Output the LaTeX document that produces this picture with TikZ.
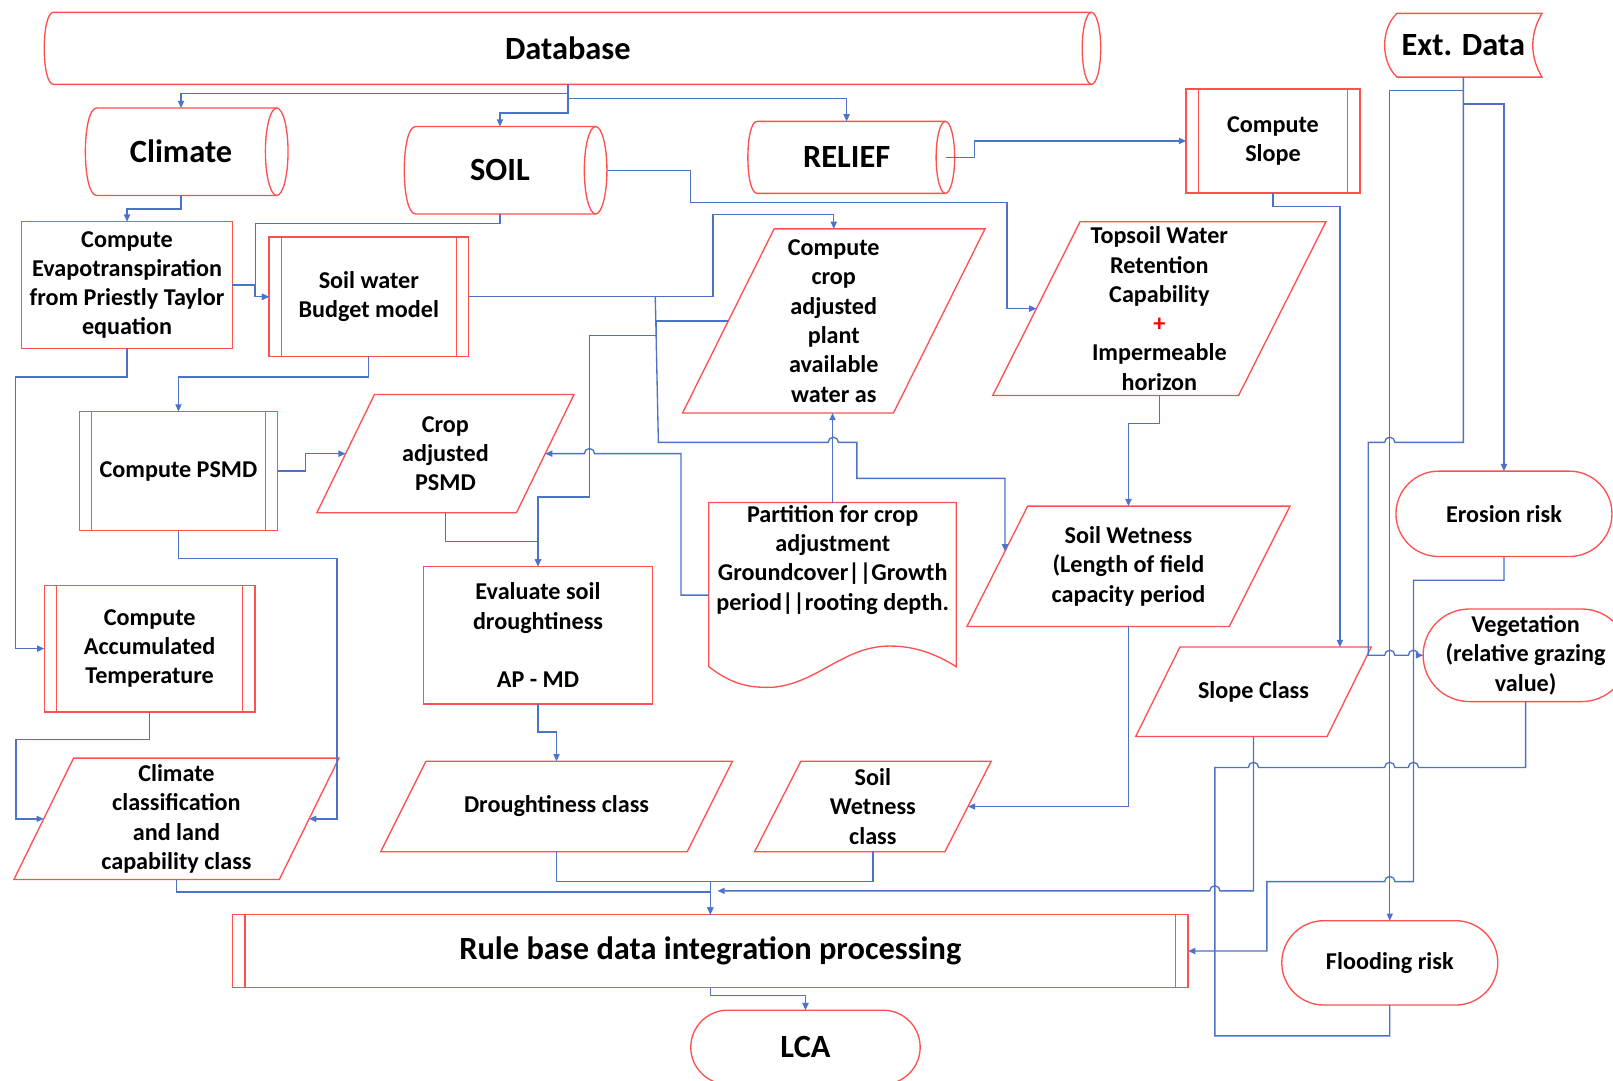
\documentclass[tikz,border=0pt]{standalone}
\usepackage{fontspec}
\setmainfont{Carlito}
\usetikzlibrary{arrows.meta,calc,shapes.misc}
\definecolor{rd}{RGB}{255,80,80}
\definecolor{bl}{RGB}{75,115,200}
\newcommand\PBox[7]{% style,name,cx,cy,w,h,text
  \node[box,#1,minimum width=#5pt,minimum height=#6pt] (#2) at (#3,#4) {#7};
  \draw[shp] (#2.north west) rectangle (#2.south east);}
\newcommand\PProc[8]{% style,name,cx,cy,w,h,off,text
  \node[box,#1,minimum width=#5pt,minimum height=#6pt] (#2) at (#3,#4) {#8};
  \draw[shp] (#2.north west) rectangle (#2.south east)
    ($(#2.north west)+(#7,0)$) -- ($(#2.south west)+(#7,0)$)
    ($(#2.north east)+(-#7,0)$) -- ($(#2.south east)+(-#7,0)$);}
\newcommand\PPar[8]{% style,name,cx,cy,w,h,slant,text
  \node[box,#1,minimum width=#5pt,minimum height=#6pt] (#2) at (#3,#4) {#8};
  \draw[shp] ($(#2.north west)+(#7,0)$) -- (#2.north east) -- ($(#2.south east)+(-#7,0)$) -- (#2.south west) -- cycle;
  \coordinate (#2-l) at ($(#2.west)+(#7/2,0)$);
  \coordinate (#2-r) at ($(#2.east)+(-#7/2,0)$);}
\newcommand\PCyl[8]{% style,name,cx,cy,w,h,rx,text
  \node[box,#1,minimum width=#5pt,minimum height=#6pt] (#2) at (#3,#4) {#8};
  \draw[shp] ($(#2.north west)+(#7,0)$) -- (#2.north east)
    (#2.south east) -- ($(#2.south west)+(#7,0)$)
    .. controls ($(#2.south west)+(-#7/3,0)$) and ($(#2.north west)+(-#7/3,0)$) .. ($(#2.north west)+(#7,0)$);
  \draw[shp] (#2.east) ellipse [x radius=#7, y radius=#6/2];}
\newcommand\PStad[7]{% style,name,cx,cy,w,h,text
  \node[box,shp,rounded rectangle,#1,minimum width=#5pt,minimum height=#6pt] (#2) at (#3,#4) {#7};}
\begin{document}
\begin{tikzpicture}[x=1pt,y=-1pt,
  shp/.style={draw=rd, line width=1.3pt},
  box/.style={inner sep=0pt, outer sep=0pt, align=center, text=black,
    font=\fontsize{23.5}{28.5}\selectfont\bfseries},
  bigf/.style={font=\fontsize{31.5}{36}\selectfont\bfseries},
  conn/.style={draw=bl, line width=1.3pt, -{Triangle[length=7pt,width=6pt]}},
  cline/.style={draw=bl, line width=1.3pt}]
\fill[white] (0,0) rectangle (1568,1050);
\useasboundingbox (0,0) rectangle (1568,1050);

% ---------- shapes ----------
\PCyl{bigf}{db}{552}{47}{1018}{70}{9}{Database}
\PCyl{bigf}{cli}{176}{147.5}{186}{85}{11}{Climate}
\PCyl{bigf}{soil}{486}{165.5}{186}{85}{11}{SOIL}
\PCyl{bigf}{rel}{823}{153}{192}{70}{9}{RELIEF}

\node[box,bigf,minimum width=153pt,minimum height=62pt] (ext) at (1422.5,44) {Ext. Data};
\draw[shp] ($(ext.north west)+(12,0)$) -- (ext.north east)
  .. controls ($(ext.north east)+(-12,20)$) and ($(ext.south east)+(-12,-20)$) .. (ext.south east)
  -- ($(ext.south west)+(12,0)$)
  .. controls ($(ext.south west)+(-4,-15)$) and ($(ext.north west)+(-4,15)$) .. ($(ext.north west)+(12,0)$);

\PProc{}{cs}{1237.5}{137}{169}{101}{12}{Compute\\Slope}
\PBox{}{et}{123.5}{277}{205}{123}{Compute\\Evapotranspiration\\from Priestly Taylor\\equation}
\PProc{}{swb}{358.5}{288.5}{194}{116}{12}{Soil water\\Budget model}
\PPar{}{cc}{810.5}{312}{294}{179}{89}{Compute\\crop\\adjusted\\plant\\available\\water as}
\PPar{}{tw}{1127}{300}{324}{169}{85}{Topsoil Water\\Retention\\Capability\\{\color{red}+}\\Impermeable\\horizon}
\PProc{}{psmd}{173.5}{458}{193}{116}{12}{Compute PSMD}
\PPar{}{cp}{433}{441}{250}{115}{56}{Crop\\adjusted\\PSMD}

\node[box,minimum width=240.5pt,minimum height=159.5pt] (pt) at (809.3,568.3) {};
\draw[shp] (689,648) -- (689,488.5) -- (929.5,488.5) -- (929.5,648)
  .. controls (910,636) and (890,628) .. (865,628)
  .. controls (820,628) and (795,664) .. (752,668)
  .. controls (730,669) and (712,666) .. (689,648);
\node[box] (ptt) at (809.5,544) {Partition for crop\\adjustment\\Groundcover||Growth\\period||rooting depth.};

\PPar{}{sw}{1097}{550.5}{314}{117}{59}{Soil Wetness\\(Length of field\\capacity period}
\PStad{}{er}{1462}{499.5}{210}{83}{Erosion risk}
\PStad{}{vg}{1483}{637}{186}{90}{Vegetation\\(relative grazing\\value)}
\PProc{}{at}{145.5}{630.5}{205}{123}{12}{Compute\\Accumulated\\Temperature}
\PBox{}{ev}{523}{617.5}{223}{134}{Evaluate soil\\droughtiness\\[28.5pt]AP - MD}
\PPar{}{sc}{1218.5}{672.5}{229}{87}{43}{Slope Class}
\PPar{}{cl}{171.5}{796}{316}{118}{58}{Climate\\classification\\and land\\capability class}
\PPar{}{dc}{541}{784}{342}{88}{44}{Droughtiness class}
\PPar{}{swc}{848.5}{784}{230}{88}{45}{Soil\\Wetness\\class}
\PProc{bigf}{rb}{690.5}{924.5}{929}{71}{12}{Rule base data integration processing}
\PStad{}{fl}{1351}{936}{210}{82}{Flooding risk}
\PStad{bigf}{lca}{783}{1018}{223}{72}{LCA}

% ---------- connectors ----------
\draw[conn] (db.south) -- ++(0,9) -| (cli.north);
\draw[conn] (db.south) -- ++(0,14) -| (rel.north);
\draw[conn] (db.south) -- ++(0,28) -| (soil.north);
\draw[conn] (cli.south) -- ++(0,13) -| (et.north);
\draw[conn] (soil.south) -- ++(0,9) -| ($(swb.west)+(-13,0)$) -- (swb.west);
\draw[conn] (et.east) -- ++(22,0) |- (swb.west);
\draw[conn] ($(soil.east)+(11,0)$) -| (671,197) -| (979,300) -- (tw-l);
\draw[conn] ($(rel.east)+(1,0)$) -- (947,153) |- (cs.west);
\draw[conn] (cs.south) -- ++(0,13) -| ($(sc.north)+(84,0)$);
\draw[conn] (tw.south) -- ++(0,27) -| (sw.north);
\draw[conn] (sw.south) |- (swc-r);
\draw[conn] (swb.east) -| ($(cc.north)+(-117.5,-14)$) -| (cc.north);
\coordinate (j1) at ($(swb.east)+(181.5,0)$);
\coordinate (swin) at (977,536);
\draw[conn] (j1) -- (640,430) -- (805,430) arc(180:360:5) -- (833,430) -- (833,465) -- (977,465) -- (swin);
\draw[conn] (cc-l) -| (638,326) -| (573,483) -| (ev.north);
\draw[conn] (cp.south) -- ++(0,28) -| (ev.north);
\draw[conn] ($(pt.north west)+(0,90)$) -| (662,441) -- (578,441) arc(0:-180:5) -- (cp-r);
\draw[conn] (psmd.east) -- ++(27,0) |- (cp-l);
\draw[conn] (psmd.south) -- ++(0,27) -| ($(cl-r)+(27,0)$) -- (cl-r);
\draw[conn] (et.south) -- ++(0,28) -| ($(at.west)+(-28,0)$) -- (at.west);
\draw[conn] (at.south) -- ++(0,27) -| ($(cl-l)+(-27,0)$) -- (cl-l);
\draw[conn] (swb.south) -- ++(0,20) -| (psmd.north);
\draw[conn] (ev.south) -- ++(0,27) -| (dc.north);
\draw[conn] (pt.north) -- (pt.north |- cc.south);
\draw[conn] (dc.south) -- ++(0,29) -| (rb.north);
\draw[cline] (swc.south) -- ++(0,29) -| (rb.north);
\draw[conn] (cl.south) -- ++(0,12) -| (rb.north);
\draw[conn] (sc.south) -- ++(0,150) -- (1186,866) arc(0:-180:5) -- ($(rb.north)+(7,-23)$);
\draw[conn] (ext.south) -- ++(0,13) -| (fl.north);
\draw[conn] (ext.south) -- ++(0,26) -| (er.north);
\draw[conn] (ext.south) -- (1422.5,430) -- (1356,430) arc(0:-180:5) -- (1330,430) -- (1330,637)
  -- (1346,637) arc(180:360:5) -- (1369,637) arc(180:360:5) -- (vg.west);
\draw[conn] (er.south) -- ++(0,23) -| (1374,857) -- (1356,857) arc(0:-180:5) -- (1231.5,857) |- (rb.east);
\draw[cline] (vg.south) -- ++(0,64) -- (1379,746) arc(0:-180:5) -- (1356,746) arc(0:-180:5)
  -- (1223.5,746) arc(0:-180:5) -- (1181,746) -- (1181,1007) -| (fl.south);
\draw[conn] (rb.south) -- ++(0,8) -| (lca.north);
\end{tikzpicture}
\end{document}
